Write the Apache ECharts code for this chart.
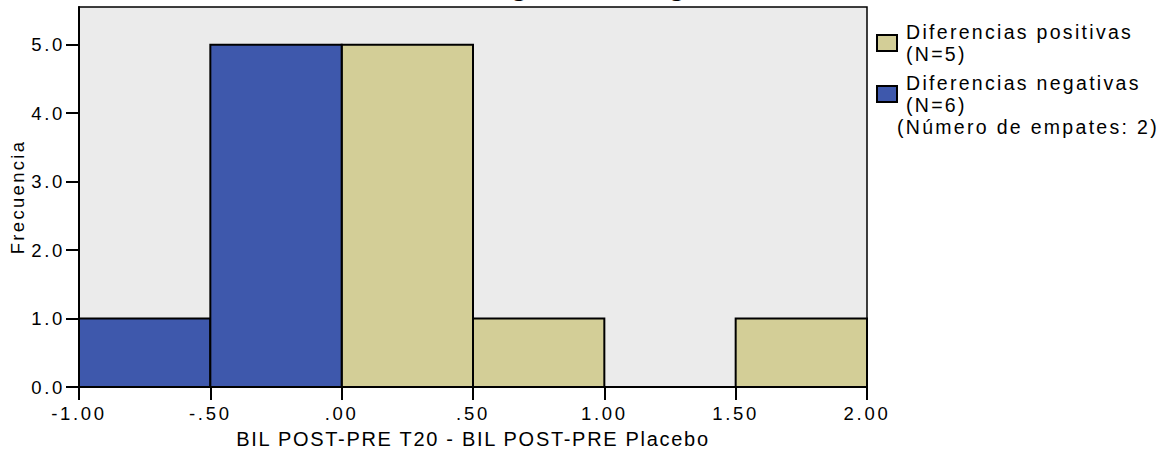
<!DOCTYPE html>
<html><head><meta charset="utf-8">
<script src="https://cdn.jsdelivr.net/npm/echarts@6/dist/echarts.min.js"></script>
<style>
html,body{margin:0;padding:0;background:#fff;}
#c{width:1166px;height:454px;}
#c text{letter-spacing:2.7px;}
</style></head><body>
<div id="c"></div>
<script>
// ---- data ----
const titleText = 'Prueba de los rangos con signo de Wilcoxon';
const xAxisName = 'BIL POST-PRE T20 - BIL POST-PRE Placebo';
const yAxisName = 'Frecuencia';
const posName = 'Diferencias positivas\n(N=5)';
const negName = 'Diferencias negativas\n(N=6)';
const tiesNote = '(Número de empates: 2)';
const negBinStart = [-1.0, -0.5];
const negBinEnd   = [-0.5, 0.0];
const negCount    = [1, 5];
const posBinStart = [0.0, 0.5, 1.0, 1.5];
const posBinEnd   = [0.5, 1.0, 1.5, 2.0];
const posCount    = [5, 1, 0, 1];
const xTicks = [-1.0, -0.5, 0.0, 0.5, 1.0, 1.5, 2.0];
const xTickLabels = ['-1.00', '-.50', '.00', '.50', '1.00', '1.50', '2.00'];
const yTickLabels = ['0.0', '1.0', '2.0', '3.0', '4.0', '5.0'];

const FONT = '"Liberation Sans", Arial, sans-serif';
const blue = '#3e58ac', tan = '#d3ce97';

function bins(starts, ends, counts) {
  return starts.map((s, i) => [s, ends[i], counts[i]]);
}
function renderBin(params, api) {
  const s = api.value(0), e = api.value(1), n = api.value(2);
  if (!n) return null;
  const p0 = api.coord([s, 0]);
  const p1 = api.coord([e, n]);
  return {
    type: 'rect',
    shape: { x: p0[0], y: p1[1], width: p1[0] - p0[0], height: p0[1] - p1[1] },
    style: { fill: api.visual('color'), stroke: '#000', lineWidth: 2 }
  };
}

const chart = echarts.init(document.getElementById('c'), null, { renderer: 'svg' });
chart.setOption({
  animation: false,
  grid: { left: 79, top: 7, right: 299, bottom: 67, show: true, backgroundColor: '#ebebeb', borderColor: '#000', borderWidth: 1.5 },
  graphic: [
    { type: 'text', x: 233, y: -19, style: { text: titleText, font: '35px ' + FONT, fill: '#000', verticalAlign: 'middle' } },
    { type: 'text', x: 897, y: 127, style: { text: tiesNote, font: '19.5px ' + FONT, fill: '#000', verticalAlign: 'middle' } }
  ],
  legend: {
    orient: 'vertical', left: 876, top: 21, padding: 0, itemWidth: 20, itemHeight: 16, itemGap: 7,
    textStyle: { fontFamily: FONT, fontSize: 19.5, color: '#000', lineHeight: 22, padding: [0, 0, 0, 4] },
    data: [
      { name: posName, icon: 'rect', itemStyle: { color: tan, borderColor: '#000', borderWidth: 2 } },
      { name: negName, icon: 'rect', itemStyle: { color: blue, borderColor: '#000', borderWidth: 2 } }
    ]
  },
  xAxis: {
    type: 'value', min: -1, max: 2, interval: 0.5,
    name: xAxisName, nameLocation: 'middle', nameGap: 42,
    nameTextStyle: { fontFamily: FONT, fontSize: 20, color: '#000' },
    axisLine: { show: true, onZero: false, lineStyle: { color: '#000', width: 2 } },
    axisTick: { show: true, length: 13, lineStyle: { color: '#000', width: 2 } },
    axisLabel: { margin: 17, fontFamily: FONT, fontSize: 18.5, color: '#000',
      formatter: v => { const i = xTicks.findIndex(t => Math.abs(t - v) < 1e-9); return i >= 0 ? xTickLabels[i] : ''; } },
    splitLine: { show: false }
  },
  yAxis: {
    type: 'value', min: 0, max: 5.55, interval: 1,
    name: yAxisName, nameLocation: 'middle', nameGap: 52,
    nameTextStyle: { fontFamily: FONT, fontSize: 18.5, color: '#000' },
    axisLine: { show: true, onZero: false, lineStyle: { color: '#000', width: 2 } },
    axisTick: { show: true, length: 13, lineStyle: { color: '#000', width: 2 } },
    axisLabel: { margin: 14, fontFamily: FONT, fontSize: 18.5, color: '#000', showMaxLabel: false,
      formatter: v => { const i = Math.round(v); return Math.abs(v - i) < 1e-9 && yTickLabels[i] ? yTickLabels[i] : ''; } },
    splitLine: { show: false }
  },
  series: [
    { name: posName, type: 'custom', renderItem: renderBin, itemStyle: { color: tan },
      encode: { x: [0, 1], y: 2 }, data: bins(posBinStart, posBinEnd, posCount), z: 2 },
    { name: negName, type: 'custom', renderItem: renderBin, itemStyle: { color: blue },
      encode: { x: [0, 1], y: 2 }, data: bins(negBinStart, negBinEnd, negCount), z: 2 }
  ]
});

// per-text letter spacing, to imitate the wide-tracked original rendering
function track() {
  document.querySelectorAll('#c text').forEach(t => {
    const s = t.textContent;
    if (s === titleText) t.style.letterSpacing = '0px';
    else if (s === xAxisName) t.style.letterSpacing = '1.7px';
    else if (s === yAxisName) t.style.letterSpacing = '2.3px';
    else if (s.indexOf('Diferencias') >= 0 || s.indexOf('(N=') >= 0 || s === tiesNote) t.style.letterSpacing = '2.3px';
  });
}
track();
chart.on('finished', track);
</script>
</body></html>
